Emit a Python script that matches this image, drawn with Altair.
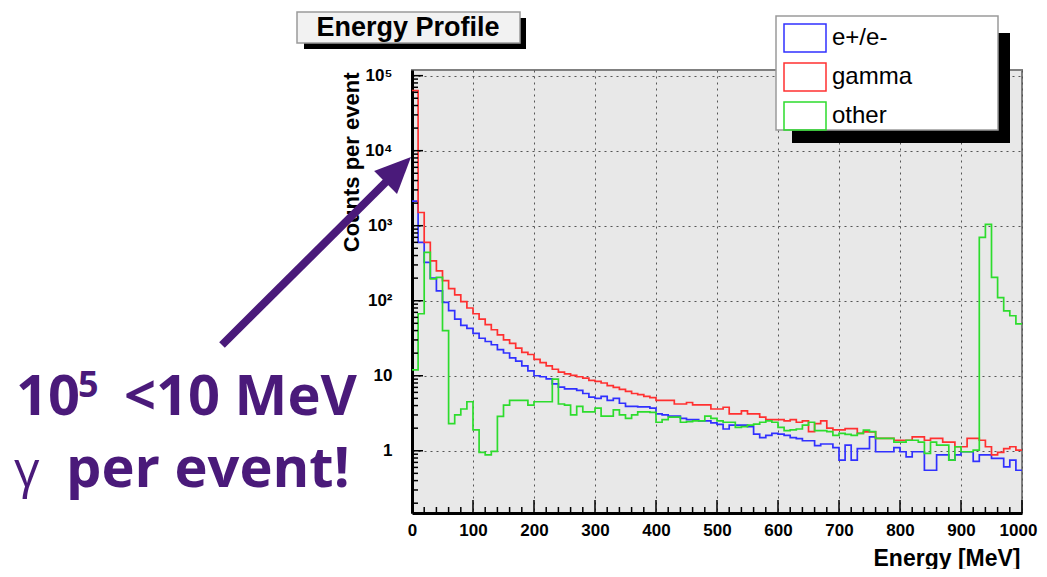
import altair as alt
import pandas as pd

# ---------------- data ----------------
bin_edges = list(range(0, 1001, 10))          # 100 bins of 10 MeV
series_names = ["e+/e-", "gamma", "other"]
series_colors = ["#3030ff", "#ff3030", "#2ddc2d"]

ee_counts = [
    2130, 600, 324, 200, 135, 95, 74, 57, 47, 42.7,
    36.7, 31.6, 28.6, 25.9, 22.3, 20.1, 17.3, 15.7, 13.5, 11.6,
    10.0, 9.7, 9.1, 7.8, 7.05, 6.7, 6.7, 6.4, 5.8, 5.2,
    5.0, 5.3, 4.7, 5.0, 4.3, 3.9, 3.9, 3.85, 3.85, 3.7,
    3.1, 3.0, 2.9, 2.9, 2.7, 2.6, 2.6, 2.5, 2.5, 2.35,
    2.25, 1.95, 2.2, 2.2, 2.2, 2.1, 1.67, 1.5, 1.6, 1.7,
    1.67, 1.6, 1.5, 1.45, 1.36, 1.36, 1.17, 1.23, 1.23, 1.1,
    0.75, 1.19, 0.75, 1.07, 1.07, 1.53, 0.97, 0.97, 0.97, 1.1,
    0.97, 0.83, 0.97, 0.97, 0.55, 0.55, 0.88, 0.88, 0.75, 0.88,
    0.97, 0.97, 0.72, 0.88, 0.88, 0.79, 0.79, 0.61, 0.75, 0.55,
]
gamma_counts = [
    63000, 1500, 600, 340, 250, 185, 145, 120, 97, 80,
    67, 57, 48, 41, 35, 30, 27, 23.4, 20.5, 19.2,
    16.5, 15, 13.5, 12.2, 11.2, 10.6, 10.1, 9.7, 9.3, 8.7,
    8.4, 8.0, 7.4, 7.0, 6.6, 6.2, 5.8, 5.6, 5.3, 5.1,
    4.7, 4.7, 4.7, 4.2, 4.2, 4.4, 4.1, 4.1, 4.1, 3.6,
    3.6, 3.8, 3.1, 3.1, 3.4, 3.1, 3.1, 2.8, 2.6, 2.6,
    2.6, 2.5, 2.6, 2.4, 2.5, 1.8, 2.3, 2.5, 2.0, 1.9,
    1.9, 1.97, 1.97, 1.7, 1.78, 1.78, 1.46, 1.46, 1.46, 1.38,
    1.38, 1.38, 1.53, 1.53, 1.38, 1.46, 1.46, 1.3, 1.3, 1.13,
    1.13, 1.46, 1.46, 1.38, 1.13, 0.88, 0.95, 1.07, 1.13, 1.02,
]
other_counts = [
    12, 67, 440, 195, 205, 40, 2.3, 3.0, 3.6, 4.5,
    1.9, 0.95, 0.88, 0.98, 2.87, 4.06, 4.7, 4.7, 4.7, 4.06,
    4.5, 4.5, 4.5, 9.0, 4.2, 4.06, 3.0, 3.9, 3.3, 3.3,
    3.7, 2.9, 2.9, 3.5, 3.0, 2.7, 3.0, 3.3, 3.3, 3.24,
    2.4, 2.6, 2.8, 2.8, 2.4, 2.45, 2.5, 2.5, 2.9, 2.7,
    2.5, 2.4, 2.4, 2.05, 2.1, 2.2, 2.27, 2.4, 2.5, 2.4,
    2.05, 1.85, 1.9, 1.95, 2.2, 2.4, 1.85, 1.85, 1.8, 1.6,
    1.7, 1.65, 1.6, 1.7, 1.88, 1.8, 1.46, 1.46, 1.46, 1.3,
    1.3, 1.38, 1.38, 1.3, 0.92, 1.3, 1.19, 1.19, 0.75, 1.13,
    0.97, 0.97, 1.02, 700, 1040, 205, 110, 73, 63, 49,
]

x_tick_values = list(range(0, 1001, 100))
x_minor_values = [v for v in range(0, 1001, 20) if v % 100]
y_tick_values = [1, 10, 100, 1000, 10000, 100000]
y_minor_values = [m * 10 ** k for k in range(-1, 5) for m in range(2, 10)
                  if 0.148 <= m * 10 ** k <= 119000]

rows = []
for name, vals in zip(series_names, [ee_counts, gamma_counts, other_counts]):
    for i, v in enumerate(vals):
        rows.append({"E": bin_edges[i], "count": v, "particle": name})
    rows.append({"E": bin_edges[-1], "count": vals[-1], "particle": name})
df = pd.DataFrame(rows)

one = pd.DataFrame({"k": [0]})
purple = "#4a1a7a"

xscale = alt.Scale(domain=[0, 1000], nice=False, zero=False)
yscale = alt.Scale(type="log", domain=[0.148, 119000], nice=False)

y_label_expr = ("datum.value == 1 ? '1' : datum.value == 10 ? '10' : "
                "datum.value == 100 ? '10²' : datum.value == 1000 ? '10³' : "
                "datum.value == 10000 ? '10⁴' : '10⁵'")

x_axis = alt.Axis(
    values=x_tick_values, format="d", grid=True, gridColor="#555", gridDash=[2, 4],
    gridWidth=1, ticks=False, tickSize=0, domainColor="black", domainWidth=3,
    labelFont="Liberation Sans", labelFontSize=17, labelFontWeight="bold",
    labelColor="black", labelPadding=9, labelFlush=False, labelOverlap=False,
    labelOffset={"condition": {"test": "datum.value == 1000", "value": -4}, "value": 0},
    title="Energy [MeV]", titleFont="Liberation Sans", titleFontSize=23,
    titleFontWeight="bold", titleColor="black", titleAlign="right",
    titleBaseline="alphabetic", titleX=608, titleY=52)
y_axis = alt.Axis(
    values=y_tick_values, labelExpr=y_label_expr, grid=True, gridColor="#555",
    gridDash=[2, 4], gridWidth=1, ticks=False, tickSize=0, domainColor="black",
    domainWidth=3, labelFont="Liberation Sans", labelFontSize=17,
    labelFontWeight="bold", labelColor="black", labelPadding=20,
    labelFlush=False, labelOverlap=False,
    title="Counts per event", titleFont="Liberation Sans", titleFontSize=22,
    titleFontWeight="bold", titleColor="black", titleAngle=270,
    titleAlign="right", titleBaseline="middle", titleX=-61, titleY=2)

lines = alt.Chart(df).mark_line(interpolate="step-after", strokeWidth=1.7, clip=True).encode(
    x=alt.X("E:Q", scale=xscale, axis=x_axis),
    y=alt.Y("count:Q", scale=yscale, axis=y_axis),
    color=alt.Color("particle:N", sort=series_names,
                    scale=alt.Scale(domain=series_names, range=series_colors),
                    legend=alt.Legend(
                        orient="none", legendX=377, legendY=-48, title=None,
                        symbolType="M-1.4,-0.93L1.4,-0.93L1.4,0.93L-1.4,0.93Z",
                        symbolSize=900, symbolStrokeWidth=1.5,
                        symbolFillColor="transparent", labelFont="Liberation Sans",
                        labelFontSize=24, labelColor="black", labelOffset=11,
                        rowPadding=5, padding=0)),
)

xmaj = alt.Chart(pd.DataFrame({"E": x_tick_values})).mark_rule(color="black", strokeWidth=1.5).encode(
    x=alt.X("E:Q", scale=xscale, axis=x_axis), y=alt.value(443), y2=alt.value(430))
xmin = alt.Chart(pd.DataFrame({"E": x_minor_values})).mark_rule(color="black", strokeWidth=1.5).encode(
    x=alt.X("E:Q", scale=xscale, axis=x_axis), y=alt.value(443), y2=alt.value(437))
ymaj = alt.Chart(pd.DataFrame({"count": y_tick_values})).mark_rule(color="black", strokeWidth=1.5).encode(
    y=alt.Y("count:Q", scale=yscale, axis=y_axis), x=alt.value(0), x2=alt.value(11))
ymin = alt.Chart(pd.DataFrame({"count": y_minor_values})).mark_rule(color="black", strokeWidth=1.5).encode(
    y=alt.Y("count:Q", scale=yscale, axis=y_axis), x=alt.value(0), x2=alt.value(6))

# title box "Energy Profile"
title_shadow = alt.Chart(one).mark_rect(color="black").encode(
    x=alt.value(-108), x2=alt.value(114), y=alt.value(-52), y2=alt.value(-21))
title_box = alt.Chart(one).mark_rect(fill="#f2f2f2", stroke="#9a9a9a", strokeWidth=1.5).encode(
    x=alt.value(-115), x2=alt.value(108), y=alt.value(-58), y2=alt.value(-27))
title_text = alt.Chart(one).mark_text(
    text="Energy Profile", font="Liberation Sans", fontSize=27, fontWeight="bold",
    align="center", baseline="alphabetic", color="black").encode(
    x=alt.value(-4), y=alt.value(-34))

# legend frame
leg_shadow = alt.Chart(one).mark_rect(color="black").encode(
    x=alt.value(380), x2=alt.value(598), y=alt.value(-37), y2=alt.value(73))
leg_box = alt.Chart(one).mark_rect(fill="white", stroke="#9a9a9a", strokeWidth=1.5).encode(
    x=alt.value(364), x2=alt.value(586), y=alt.value(-54), y2=alt.value(60))

# annotation
arrow_line = alt.Chart(one).mark_rule(color=purple, strokeWidth=8).encode(
    x=alt.value(-190), y=alt.value(275), x2=alt.value(-18), y2=alt.value(104))
arrow_head = alt.Chart(one).mark_point(
    shape="M0,-1L0.9,1L-0.9,1Z", size=1296, filled=True, color=purple, opacity=1,
    angle=45).encode(x=alt.value(-13.7), y=alt.value(99.7))

ann_font = "Open Sans"
ann1a = alt.Chart(one).mark_text(text="10", font=ann_font, fontSize=56, fontWeight="bold",
                                 align="left", baseline="alphabetic", color=purple).encode(
    x=alt.value(-396), y=alt.value(345))
ann1b = alt.Chart(one).mark_text(text="5", font=ann_font, fontSize=36, fontWeight="bold",
                                 align="left", baseline="alphabetic", color=purple).encode(
    x=alt.value(-334), y=alt.value(327))
ann1c = alt.Chart(one).mark_text(text="<10 MeV", font=ann_font, fontSize=56, fontWeight="bold",
                                 align="left", baseline="alphabetic", color=purple).encode(
    x=alt.value(-288), y=alt.value(345))
ann2a = alt.Chart(one).mark_text(text="γ", font=ann_font, fontSize=50,
                                 align="left", baseline="alphabetic", color=purple).encode(
    x=alt.value(-398), y=alt.value(417))
ann2b = alt.Chart(one).mark_text(text="per event!", font=ann_font, fontSize=56, fontWeight="bold",
                                 align="left", baseline="alphabetic", color=purple).encode(
    x=alt.value(-346), y=alt.value(417))

chart = alt.layer(
    lines, xmaj, xmin, ymaj, ymin,
    title_shadow, title_box, title_text,
    leg_shadow, leg_box,
    arrow_line, arrow_head,
    ann1a, ann1b, ann1c, ann2a, ann2b,
).properties(
    width=610, height=443,
    autosize=alt.AutoSizeParams(type="none"),
    padding={"left": 404, "top": 62, "right": 17, "bottom": 56},
    background="white",
).configure_view(
    fill="#e8e8e8", stroke="#808080", strokeWidth=2
)

chart.save("out.html", embed_options={"renderer": "svg", "actions": False})
